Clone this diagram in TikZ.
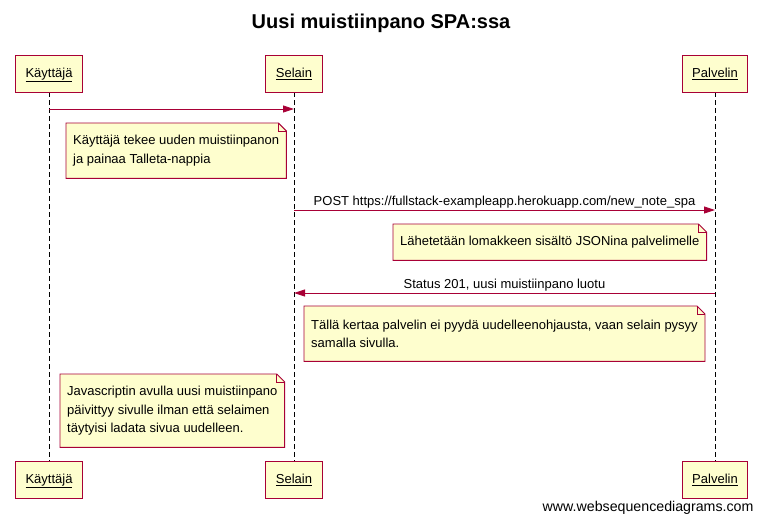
\documentclass[tikz,border=0pt]{standalone}
\usepackage{fontspec}
\setmainfont{Liberation Sans}
\usetikzlibrary{arrows.meta,positioning,backgrounds}
\definecolor{wsdred}{HTML}{A80036}
\definecolor{wsdfill}{HTML}{FEFECE}

\begin{document}
\begin{tikzpicture}[x=1pt, y=-1pt, font=\fontsize{13}{16}\selectfont,
  actor/.style={draw=wsdred, fill=wsdfill, line width=0.9pt, minimum height=37pt, inner xsep=10pt,
    text height=10pt, text depth=2pt},
  lifeline/.style={dash pattern=on 5pt off 3pt, line width=0.9pt},
  msg/.style={draw=wsdred, line width=0.9pt, -{Triangle[length=11pt,width=7pt]}},
  msglabel/.style={above=0pt, inner sep=1pt, text=black},
  note/.style={inner xsep=7pt, inner ysep=0pt, align=left, anchor=north west,
    font=\fontsize{13}{18.5}\selectfont},
  notebg/.style={draw=wsdred, fill=wsdfill, line width=0.9pt}]
  \useasboundingbox (0,0) rectangle (762,523);
  \node[font=\bfseries\fontsize{20}{24}\selectfont] (title) at (381,23) {Uusi muistiinpano SPA:ssa};

  % participants, top and bottom
  \node[actor] (kt) at (49,73.5) {\underline{Käyttäjä}};
  \node[actor] (st) at (294,73.5) {\underline{Selain}};
  \node[actor] (pt) at (715,73.5) {\underline{Palvelin}};
  \node[actor] (kb) at (49,479.5) {\underline{Käyttäjä}};
  \node[actor] (sb) at (294,479.5) {\underline{Selain}};
  \node[actor] (pb) at (715,479.5) {\underline{Palvelin}};

  % notes
  \node[note, minimum height=55pt] (n1) at (66,123)
    {Käyttäjä tekee uuden muistiinpanon\\ja painaa Talleta-nappia};
  \node[note, minimum height=36pt] (n2) at (393,224)
    {Lähetetään lomakkeen sisältö JSONina palvelimelle};
  \node[note, minimum height=55pt] (n3) at (304,306)
    {Tällä kertaa palvelin ei pyydä uudelleenohjausta, vaan selain pysyy\\samalla sivulla.};
  \node[note, minimum height=73pt] (n4) at (60,374)
    {Javascriptin avulla uusi muistiinpano\\päivittyy sivulle ilman että selaimen\\täytyisi ladata sivua uudelleen.};

  \begin{scope}[on background layer]
    \draw[lifeline] (kt) -- (kb);
    \draw[lifeline] (st) -- (sb);
    \draw[lifeline] (pt) -- (pb);
    \foreach \n in {n1,n2,n3,n4} {
      \draw[notebg] (\n.south west) -- (\n.north west) -- ([xshift=-8pt]\n.north east)
        -- ([yshift=-8pt]\n.north east) -- (\n.south east) -- cycle;
      \draw[draw=wsdred, line width=0.9pt] ([xshift=-8pt]\n.north east) |- ([yshift=-8pt]\n.north east);
    }
  \end{scope}

  % messages
  \coordinate (m1a) at (49,109);
  \coordinate (m1b) at (294,109);
  \coordinate (m2a) at (294,210);
  \coordinate (m2b) at (715,210);
  \coordinate (m3a) at (715,293);
  \coordinate (m3b) at (294,293);
  \draw[msg] (m1a) -- (m1b);
  \draw[msg] (m2a) -- node[msglabel] (l2) {POST https://fullstack-exampleapp.herokuapp.com/new\_note\_spa} (m2b);
  \draw[msg] (m3a) -- node[msglabel] (l3) {Status 201, uusi muistiinpano luotu} (m3b);

  \node[anchor=east, font=\fontsize{14.2}{17}\selectfont] (footer) at (757,508) {www.websequencediagrams.com};
\end{tikzpicture}
\end{document}
